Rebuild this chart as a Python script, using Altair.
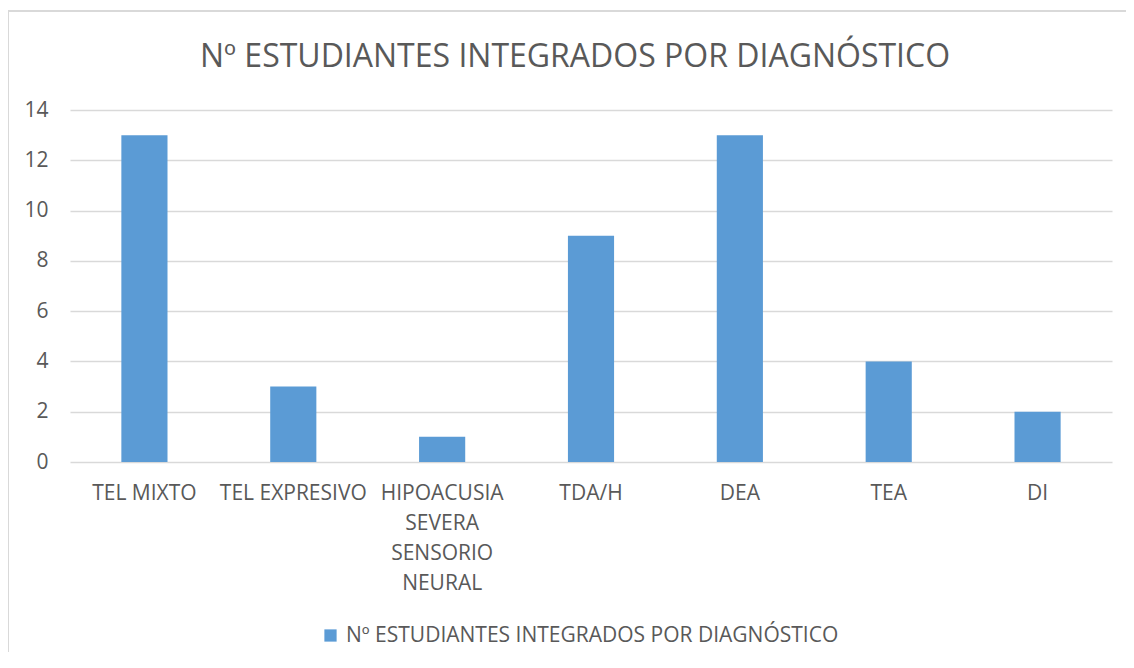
import altair as alt
import pandas as pd

categories = ["TEL MIXTO", "TEL EXPRESIVO", "HIPOACUSIA SEVERA SENSORIO NEURAL",
              "TDA/H", "DEA", "TEA", "DI"]
values = [13, 3, 1, 9, 13, 4, 2]
series_name = "Nº ESTUDIANTES INTEGRADOS POR DIAGNÓSTICO"
y_ticks = [0, 2, 4, 6, 8, 10, 12, 14]

df = pd.DataFrame({"cat": categories, "val": values, "serie": series_name})

FONT = "Open Sans"
GREY = "#595959"
LFS = 21

bars = alt.Chart(df).mark_bar(color="#5B9BD5").encode(
    x=alt.X("cat:N", sort=categories, title=None,
            scale=alt.Scale(paddingInner=0.69, paddingOuter=0.345),
            axis=alt.Axis(labelAngle=0, ticks=False, domain=False, grid=False,
                          labelPadding=31, labelFontSize=LFS, labelColor=GREY,
                          labelFont=FONT, labelLineHeight=30, labelLimit=200,
                          labelBaseline="middle",
                          labelExpr="length(datum.value) > 16 ? split(datum.value, ' ') : datum.value")),
    y=alt.Y("val:Q", title=None,
            scale=alt.Scale(domain=[0, 14], nice=False),
            axis=alt.Axis(values=y_ticks, ticks=False, domain=False,
                          gridColor="#D9D9D9", gridWidth=1.3,
                          labelFontSize=LFS, labelColor=GREY, labelFont=FONT,
                          labelPadding=22)),
    fill=alt.Fill("serie:N", scale=alt.Scale(range=["#5B9BD5"]),
                  legend=alt.Legend(title=None, orient="none", legendX=250, legendY=515,
                                    symbolType="square", symbolSize=150,
                                    labelFontSize=LFS, labelColor=GREY, labelFont=FONT,
                                    labelLimit=800,
                                    symbolStrokeWidth=0, labelOffset=5)),
)

border_top = alt.Chart(df).mark_rule(color="#D9D9D9", strokeWidth=2).encode(
    x=alt.value(-63), x2=alt.value(1070), y=alt.value(-99))
border_left = alt.Chart(df).mark_rule(color="#D9D9D9", strokeWidth=2).encode(
    x=alt.value(-62), y=alt.value(-100), y2=alt.value(560))

chart = alt.layer(bars, border_top, border_left).properties(
    width=1042, height=352,
    autosize=alt.AutoSizeParams(type="none"),
    padding={"left": 62, "top": 102, "right": 14, "bottom": 190},
    title=alt.Title(series_name, fontSize=32, font=FONT, color=GREY,
                    fontWeight="normal", anchor="middle", offset=0,
                    baseline="bottom", dy=97, dx=-16),
).configure(background="white", view=alt.ViewConfig(stroke=None))

chart.save("out.html", embed_options={"renderer": "svg", "actions": False})
